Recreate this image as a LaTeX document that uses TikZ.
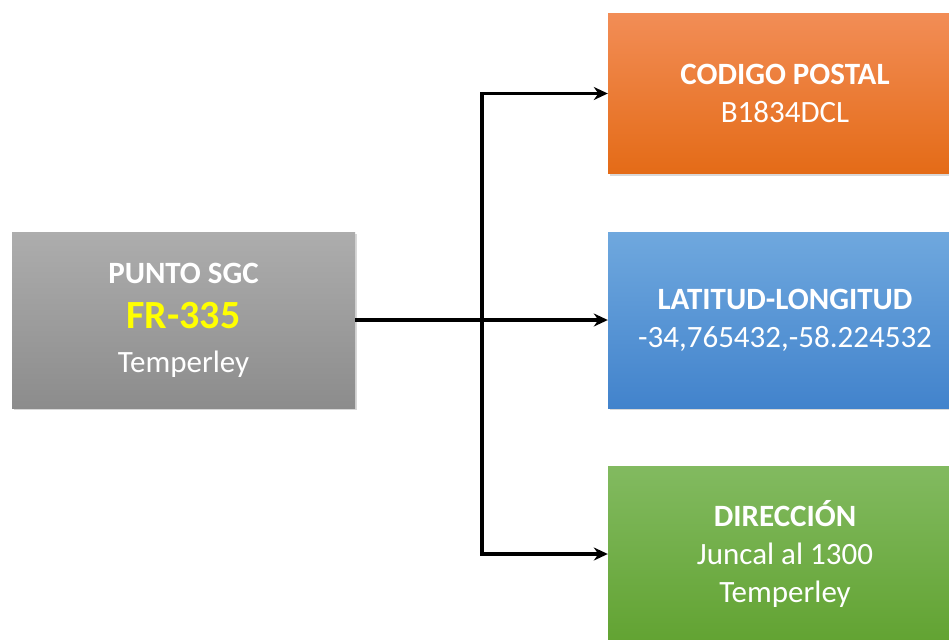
\documentclass[tikz,border=0pt]{standalone}
\usepackage{fontspec}
\setmainfont{Carlito}
\usetikzlibrary{arrows.meta, shadows, calc}
\definecolor{grayTop}{HTML}{ADADAD}
\definecolor{grayBot}{HTML}{8C8C8C}
\definecolor{orgTop}{HTML}{F28D56}
\definecolor{orgBot}{HTML}{E46B17}
\definecolor{bluTop}{HTML}{6FA8DE}
\definecolor{bluBot}{HTML}{4283CC}
\definecolor{grnTop}{HTML}{82BA60}
\definecolor{grnBot}{HTML}{62A332}
\definecolor{codeYel}{HTML}{FFFF00}
\tikzset{
  blk/.style 2 args={
    rectangle, draw=none, top color=#1, bottom color=#2,
    minimum width=343pt, minimum height=176pt, inner sep=0pt,
    align=center, text=white,
    font=\fontsize{31}{38}\selectfont,
    drop shadow={shadow xshift=2pt, shadow yshift=-2pt, opacity=0.3}
  },
  wblk/.style 2 args={blk={#1}{#2}, minimum width=354pt, minimum height=160pt},
  parr/.style={line width=3.6pt, -{Stealth[length=14pt, width=13pt]}},
  plin/.style={line width=3.6pt}
}
\begin{document}
\begin{tikzpicture}[x=1pt, y=-1pt]
  \useasboundingbox (0,0) rectangle (949,639);
  \clip (0,0) rectangle (949,639);
  \fill[white] (0,0) rectangle (949,639);

  \node[blk={grayTop}{grayBot}] (punto) at (183.5,320)
    {\bfseries PUNTO SGC\\[7pt]
     {\fontsize{40}{44}\selectfont\bfseries\color{codeYel}FR-335}\\[6pt]
     Temperley};
  \node[wblk={orgTop}{orgBot}] (postal) at (785,93.5)
    {\bfseries CODIGO POSTAL\\B1834DCL};
  \node[wblk={bluTop}{bluBot}, minimum height=176pt] (latlon) at (785,320)
    {\bfseries LATITUD-LONGITUD\\-34,765432,-58.224532};
  \node[wblk={grnTop}{grnBot}, minimum height=176pt] (direc) at (785,554)
    {\bfseries DIRECCIÓN\\Juncal al 1300\\Temperley};

  \coordinate (split) at (482,320);
  \draw[plin] (punto.east) -- (split);
  \draw[parr] (split) |- (postal.west);
  \draw[parr] (split) -- (latlon.west);
  \draw[parr] (split) |- (direc.west);
\end{tikzpicture}
\end{document}
